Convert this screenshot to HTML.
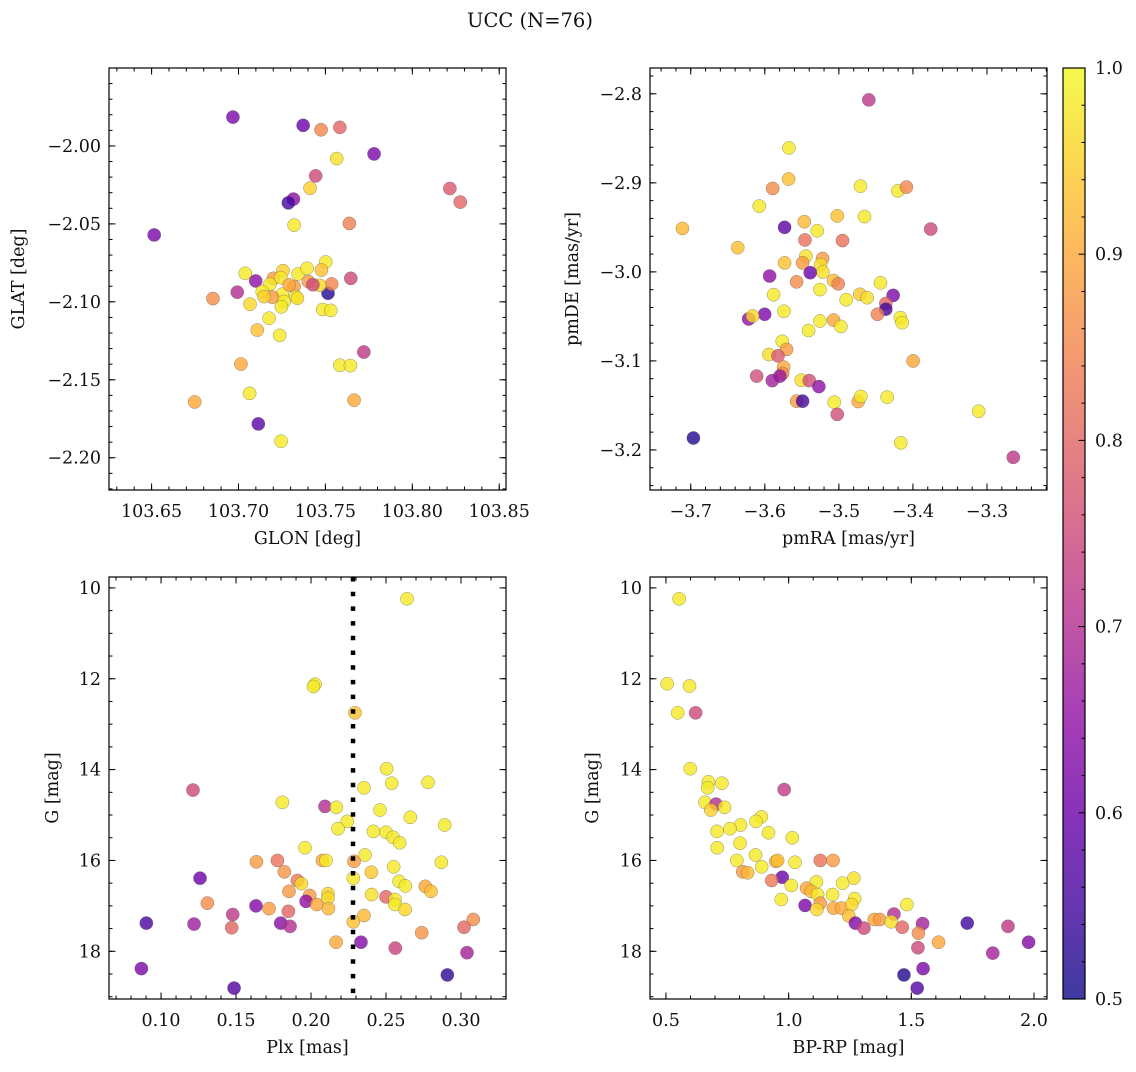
<!DOCTYPE html>
<html><head><meta charset="utf-8"><style>
html,body{margin:0;padding:0;background:#fff;}
svg text{font-family:"DejaVu Serif","Liberation Serif",serif;fill:#111;}
</style></head><body>
<svg id="fig" width="1136" height="1067" viewBox="0 0 1136 1067" xmlns="http://www.w3.org/2000/svg">
<rect width="1136" height="1067" fill="#fff"/>
<text x="530" y="27" font-size="19.5" text-anchor="middle">UCC (N=76)</text>
</svg>
<script>
// Panel 1: GLON vs GLAT
const p1X=[103.6968,103.7372,103.7475,103.7583,103.7780,103.7565,103.7444,103.7412,103.8216,103.8276,103.7316,103.7287,103.7320,103.7638,103.6515,103.7039,103.7099,103.7502,103.7646,103.6993,103.6853,103.7515,103.7536,103.7066,103.7176,103.7108,103.7237,103.7485,103.7531,103.7721,103.7014,103.7583,103.7644,103.6748,103.7064,103.7665,103.7114,103.7245,103.7201,103.7256,103.7343,103.7394,103.7477,103.7402,103.7320,103.7181,103.7243,103.7137,103.7252,103.7329,103.7195,103.7262,103.7247,103.7467,103.7428,103.7147,103.7291,103.7339];
const p1Y=[-1.9815,-1.9868,-1.9896,-1.9881,-2.0051,-2.0081,-2.0192,-2.0271,-2.0273,-2.0360,-2.0341,-2.0365,-2.0508,-2.0497,-2.0571,-2.0817,-2.0866,-2.0744,-2.0849,-2.0938,-2.0979,-2.0945,-2.0885,-2.1015,-2.1105,-2.1181,-2.1215,-2.1049,-2.1055,-2.1322,-2.1399,-2.1407,-2.1409,-2.1642,-2.1587,-2.1631,-2.1783,-2.1894,-2.0849,-2.0800,-2.0821,-2.0785,-2.0796,-2.0870,-2.0902,-2.0887,-2.0845,-2.0934,-2.0951,-2.0966,-2.0970,-2.0998,-2.1032,-2.0894,-2.0890,-2.0966,-2.0891,-2.0977];
const p1P=[0.62,0.6,0.85,0.8,0.62,0.97,0.75,0.95,0.78,0.8,0.65,0.55,0.98,0.84,0.62,0.98,0.65,0.98,0.75,0.7,0.86,0.52,0.85,0.96,0.98,0.93,0.98,0.98,0.98,0.72,0.9,0.98,0.98,0.9,0.98,0.9,0.58,0.98,0.88,0.95,0.98,0.98,0.93,0.88,0.88,0.98,0.98,0.98,0.98,0.98,0.88,0.98,0.98,0.96,0.75,0.95,0.9,0.97];
// Panel 2: pmRA vs pmDE
const p2X=[-3.4596,-3.5674,-3.5679,-3.5894,-3.4708,-3.4204,-3.4088,-3.6074,-3.7112,-3.5733,-3.3760,-3.5022,-3.4654,-3.5467,-3.5292,-3.5458,-3.4951,-3.6366,-3.5733,-3.5445,-3.5490,-3.5220,-3.5247,-3.5216,-3.5387,-3.5935,-3.5571,-3.5072,-3.5009,-3.4438,-3.5256,-3.5881,-3.4717,-3.4618,-3.4901,-3.4267,-3.4366,-3.4366,-3.4479,-3.5742,-3.6002,-3.6218,-3.6164,-3.5256,-3.5072,-3.4973,-3.5409,-3.4169,-3.4146,-3.5764,-3.5706,-3.5944,-3.5822,-3.5746,-3.5760,-3.3998,-3.6110,-3.5899,-3.5796,-3.5508,-3.5400,-3.5270,-3.5571,-3.5490,-3.5063,-3.5022,-3.4739,-3.4703,-3.4348,-3.3112,-3.6964,-3.4164,-3.2645];
const p2Y=[-2.8068,-2.8608,-2.8957,-2.9063,-2.9037,-2.9090,-2.9048,-2.9261,-2.9512,-2.9500,-2.9519,-2.9371,-2.9379,-2.9436,-2.9538,-2.9641,-2.9648,-2.9728,-2.9899,-2.9823,-2.9899,-2.9850,-2.9918,-3.0001,-3.0009,-3.0047,-3.0112,-3.0096,-3.0134,-3.0123,-3.0199,-3.0256,-3.0252,-3.0290,-3.0313,-3.0264,-3.0355,-3.0419,-3.0476,-3.0442,-3.0476,-3.0529,-3.0495,-3.0552,-3.0541,-3.0613,-3.0659,-3.0514,-3.0571,-3.0780,-3.0871,-3.0928,-3.0943,-3.1069,-3.1141,-3.1000,-3.1171,-3.1221,-3.1171,-3.1217,-3.1221,-3.1289,-3.1452,-3.1452,-3.1464,-3.1600,-3.1456,-3.1399,-3.1407,-3.1566,-3.1866,-3.1920,-3.2083];
const p2P=[0.72,0.98,0.93,0.86,0.98,0.98,0.85,0.98,0.92,0.58,0.75,0.93,0.98,0.92,0.98,0.82,0.82,0.93,0.93,0.97,0.88,0.88,0.97,0.97,0.6,0.65,0.86,0.93,0.84,0.98,0.98,0.98,0.94,0.97,0.98,0.62,0.8,0.55,0.84,0.98,0.62,0.65,0.96,0.98,0.9,0.98,0.98,0.98,0.98,0.98,0.88,0.97,0.78,0.9,0.86,0.9,0.76,0.68,0.66,0.97,0.76,0.65,0.88,0.55,0.98,0.76,0.9,0.98,0.98,0.98,0.52,0.98,0.72];
// Panel 3: Plx vs G
const p3X=[0.264,0.2027,0.2016,0.2293,0.1213,0.2504,0.2353,0.2538,0.2780,0.1809,0.2093,0.2169,0.2460,0.2662,0.2242,0.2180,0.2416,0.2500,0.2547,0.2591,0.2891,0.1960,0.2360,0.1636,0.1776,0.2076,0.2100,0.2287,0.2551,0.2869,0.1822,0.2402,0.2282,0.1260,0.1909,0.1936,0.2587,0.2629,0.2762,0.2800,0.1853,0.1991,0.2113,0.2113,0.2404,0.2500,0.2560,0.2560,0.2627,0.1309,0.1633,0.1967,0.2038,0.2116,0.1720,0.1849,0.1478,0.2353,0.2282,0.0902,0.1220,0.1798,0.1860,0.1471,0.3082,0.3020,0.2738,0.2167,0.2333,0.2562,0.3040,0.0869,0.2909,0.1487];
const p3Y=[10.24,12.12,12.17,12.75,14.45,13.98,14.40,14.30,14.28,14.72,14.81,14.83,14.89,15.05,15.14,15.30,15.36,15.38,15.49,15.61,15.22,15.72,15.88,16.03,16.00,16.00,16.00,16.02,16.14,16.04,16.25,16.26,16.39,16.39,16.44,16.51,16.46,16.56,16.57,16.68,16.68,16.77,16.73,16.83,16.75,16.80,16.86,16.97,17.08,16.94,17.00,16.90,16.97,17.06,17.06,17.12,17.19,17.21,17.35,17.38,17.40,17.38,17.45,17.48,17.30,17.47,17.59,17.80,17.80,17.93,18.03,18.38,18.52,18.81];
const p3P=[0.98,0.98,0.98,0.93,0.75,0.98,0.98,0.98,0.98,0.98,0.7,0.98,0.98,0.98,0.98,0.98,0.98,0.98,0.98,0.98,0.98,0.98,0.98,0.88,0.82,0.9,0.98,0.88,0.98,0.98,0.87,0.94,0.98,0.6,0.83,0.96,0.98,0.98,0.9,0.93,0.88,0.88,0.95,0.96,0.97,0.8,0.98,0.98,0.96,0.86,0.63,0.65,0.9,0.92,0.88,0.8,0.72,0.92,0.93,0.56,0.67,0.64,0.7,0.8,0.86,0.8,0.87,0.9,0.63,0.74,0.68,0.62,0.53,0.57];
const plxMean=[0.228];
// Panel 4: BP-RP vs G
const p4X=[0.554,0.505,0.596,0.548,0.621,0.599,0.673,0.728,0.670,0.982,0.659,0.704,0.683,0.739,0.889,0.867,0.804,0.761,0.708,0.918,1.015,0.802,0.709,0.865,0.789,0.948,0.955,1.026,1.129,1.181,0.890,0.813,0.833,0.974,1.266,0.931,1.011,1.113,1.220,1.073,1.092,1.118,1.179,1.269,0.970,1.129,1.067,1.183,1.216,1.257,1.115,1.245,1.482,1.429,1.349,1.372,1.418,1.272,1.307,1.546,1.463,1.728,1.894,1.529,1.611,1.978,1.527,1.832,1.548,1.470,1.524];
const p4Y=[10.24,12.11,12.16,12.75,12.75,13.98,14.27,14.30,14.40,14.44,14.72,14.76,14.89,14.83,15.04,15.14,15.22,15.30,15.36,15.39,15.50,15.62,15.72,15.88,16.00,16.02,16.00,16.04,16.00,16.00,16.14,16.25,16.27,16.37,16.39,16.44,16.55,16.47,16.50,16.61,16.68,16.75,16.75,16.84,16.86,16.94,16.99,17.05,17.05,16.97,17.08,17.22,16.97,17.18,17.30,17.30,17.35,17.38,17.49,17.39,17.47,17.38,17.45,17.60,17.80,17.80,17.92,18.04,18.38,18.52,18.81];
const p4P=[0.98,0.98,0.98,0.98,0.75,0.98,0.98,0.98,0.98,0.73,0.98,0.7,0.95,0.98,0.98,0.98,0.98,0.98,0.98,0.98,0.98,0.98,0.98,0.98,0.98,0.9,0.93,0.98,0.82,0.88,0.98,0.88,0.92,0.6,0.97,0.83,0.98,0.98,0.98,0.9,0.92,0.98,0.98,0.98,0.98,0.88,0.62,0.9,0.9,0.96,0.96,0.93,0.98,0.7,0.9,0.88,0.97,0.63,0.75,0.68,0.8,0.55,0.72,0.86,0.9,0.63,0.75,0.68,0.62,0.52,0.57];
const cbTicks=[0.5,0.6,0.7,0.8,0.9,1.0];

const NS="http://www.w3.org/2000/svg";
const svg=document.getElementById('fig');
const FS=17.5;
const plasma=["#0d0887","#41049d","#6a00a8","#8f0da4","#b12a90","#cc4778","#e16462","#f2844b","#fca636","#fcce25","#f0f921"];
function hex2rgb(h){return [parseInt(h.slice(1,3),16),parseInt(h.slice(3,5),16),parseInt(h.slice(5,7),16)];}
function cmap(p){let t=Math.max(0,Math.min(1,(p-0.5)/0.5))*10;let i=Math.min(9,Math.floor(t));let f=t-i;
 const a=hex2rgb(plasma[i]),b=hex2rgb(plasma[i+1]);return 'rgb('+a.map((v,k)=>Math.round(v+(b[k]-v)*f)).join(',')+')';}
function mk(tag,attrs,parent){const e=document.createElementNS(NS,tag);for(const k in attrs)e.setAttribute(k,attrs[k]);(parent||svg).appendChild(e);return e;}

function panel(o){
 const g=mk('g',{});
 
 
 const L=o.x0,R=o.x0+397,T=o.y0,B=o.y0+422;
 const sx=v=>L+(v-o.xmin)/(o.xmax-o.xmin)*397;
 const sy=v=>o.yinv? T+(v-o.ymin)/(o.ymax-o.ymin)*422 : B-(v-o.ymin)/(o.ymax-o.ymin)*422;
 const eps=1e-9;
 function ticksX(step,len){const s=Math.ceil((o.xmin-eps)/step);for(let k=s;k*step<=o.xmax+eps;k++){const x=sx(k*step);mk('line',{x1:x,x2:x,y1:B,y2:B-len,stroke:'#000','stroke-width':1},g);mk('line',{x1:x,x2:x,y1:T,y2:T+len,stroke:'#000','stroke-width':1},g);}}
 function ticksY(step,len){const lo=Math.min(o.ymin,o.ymax),hi=Math.max(o.ymin,o.ymax);const s=Math.ceil((lo-eps)/step);for(let k=s;k*step<=hi+eps;k++){const y=sy(k*step);mk('line',{x1:L,x2:L+len,y1:y,y2:y,stroke:'#000','stroke-width':1},g);mk('line',{x1:R,x2:R-len,y1:y,y2:y,stroke:'#000','stroke-width':1},g);}}
 ticksX(o.xminor,3.5);ticksX(o.xmajor,6.5);ticksY(o.yminor,3.5);ticksY(o.ymajor,6.5);
 o.xticks.forEach(v=>{const t=mk('text',{x:sx(v),y:B+27,'font-size':FS,'text-anchor':'middle'},g);t.textContent=v.toFixed(o.xdec).replace('-','\u2212');
  
  });
 o.yticks.forEach(v=>{const t=mk('text',{x:L-8,y:sy(v)+6,'font-size':FS,'text-anchor':'end'},g);t.textContent=v.toFixed(o.ydec).replace('-','\u2212');
  
  });
 const xl=mk('text',{x:(L+R)/2,y:B+54,'font-size':FS,'text-anchor':'middle'},g);xl.textContent=o.xlabel;
 
 
 const yl=mk('text',{x:0,y:0,'font-size':FS,'text-anchor':'middle',transform:`translate(${o.ylx},${(T+B)/2}) rotate(-90)`},g);yl.textContent=o.ylabel;
 
 
 const clip='c'+o.name;const cp=mk('clipPath',{id:clip},g);mk('rect',{x:L,y:T,width:397,height:422},cp);
 const pts=mk('g',{'clip-path':`url(#${clip})`},g);
 o.X.forEach((v,i)=>{const c=mk('circle',{cx:sx(v),cy:sy(o.Y[i]),r:6.6,fill:cmap(o.P[i]),'fill-opacity':0.8,stroke:'#555','stroke-opacity':0.6,'stroke-width':0.5},pts);
  
  });
 if(o.vline){o.vline.forEach(v=>{const l=mk('line',{x1:sx(v),x2:sx(v),y1:T,y2:B,stroke:'#000','stroke-width':4.5,'stroke-dasharray':'4.5 10.2'},g);
  
  });}
 mk('rect',{x:L,y:T,width:397,height:422,fill:'none',stroke:'#000','stroke-width':1.2},g);
}
panel({name:'glon-glat-panel',x0:109,y0:68,xmin:103.6255,xmax:103.8539,ymin:-2.2207,ymax:-1.950,xmajor:0.05,xminor:0.01,ymajor:0.05,yminor:0.01,
 xticks:[103.65,103.70,103.75,103.80,103.85],yticks:[-2.00,-2.05,-2.10,-2.15,-2.20],xdec:2,ydec:2,xlabel:'GLON [deg]',ylabel:'GLAT [deg]',ylx:24,X:p1X,Y:p1Y,P:p1P});
panel({name:'pm-panel',x0:650,y0:68,xmin:-3.755,xmax:-3.219,ymin:-3.245,ymax:-2.771,xmajor:0.1,xminor:0.02,ymajor:0.1,yminor:0.02,
 xticks:[-3.7,-3.6,-3.5,-3.4,-3.3],yticks:[-2.8,-2.9,-3.0,-3.1,-3.2],xdec:1,ydec:1,xlabel:'pmRA [mas/yr]',ylabel:'pmDE [mas/yr]',ylx:578,X:p2X,Y:p2Y,P:p2P});
panel({name:'plx-g-panel',x0:109,y0:577,xmin:0.0653,xmax:0.330,ymin:9.76,ymax:19.05,yinv:true,xmajor:0.05,xminor:0.01,ymajor:2,yminor:0.5,
 xticks:[0.10,0.15,0.20,0.25,0.30],yticks:[10,12,14,16,18],xdec:2,ydec:0,xlabel:'Plx [mas]',ylabel:'G [mag]',ylx:58,X:p3X,Y:p3Y,P:p3P,vline:plxMean});
panel({name:'cmd-panel',x0:650,y0:577,xmin:0.435,xmax:2.053,ymin:9.76,ymax:19.05,yinv:true,xmajor:0.5,xminor:0.1,ymajor:2,yminor:0.5,
 xticks:[0.5,1.0,1.5,2.0],yticks:[10,12,14,16,18],xdec:1,ydec:0,xlabel:'BP-RP [mag]',ylabel:'G [mag]',ylx:598,X:p4X,Y:p4Y,P:p4P});

// colorbar
const cb=mk('g',{});


const CL=1063,CW=22,CT=68,CB=999;
const grad=mk('linearGradient',{id:'plg',x1:0,y1:1,x2:0,y2:0},cb);
plasma.forEach((c,i)=>mk('stop',{offset:i/10,'stop-color':c},grad));
mk('rect',{x:CL,y:CT,width:CW,height:CB-CT,fill:'url(#plg)','fill-opacity':0.8},cb);
const cy=v=>CB-(v-0.5)/0.5*(CB-CT);
for(let k=25;k<=50;k++){const v=k*0.02;const y=cy(v);const major=(k%5===0);mk('line',{x1:CL+CW,x2:CL+CW-(major?6.5:3.5),y1:y,y2:y,stroke:'#000','stroke-width':1},cb);}
cbTicks.forEach(v=>{const t=mk('text',{x:CL+CW+10,y:cy(v)+6,'font-size':FS},cb);t.textContent=v.toFixed(1);
 
 });
mk('rect',{x:CL,y:CT,width:CW,height:CB-CT,fill:'none',stroke:'#000','stroke-width':1.2},cb);
</script>
</body></html>
